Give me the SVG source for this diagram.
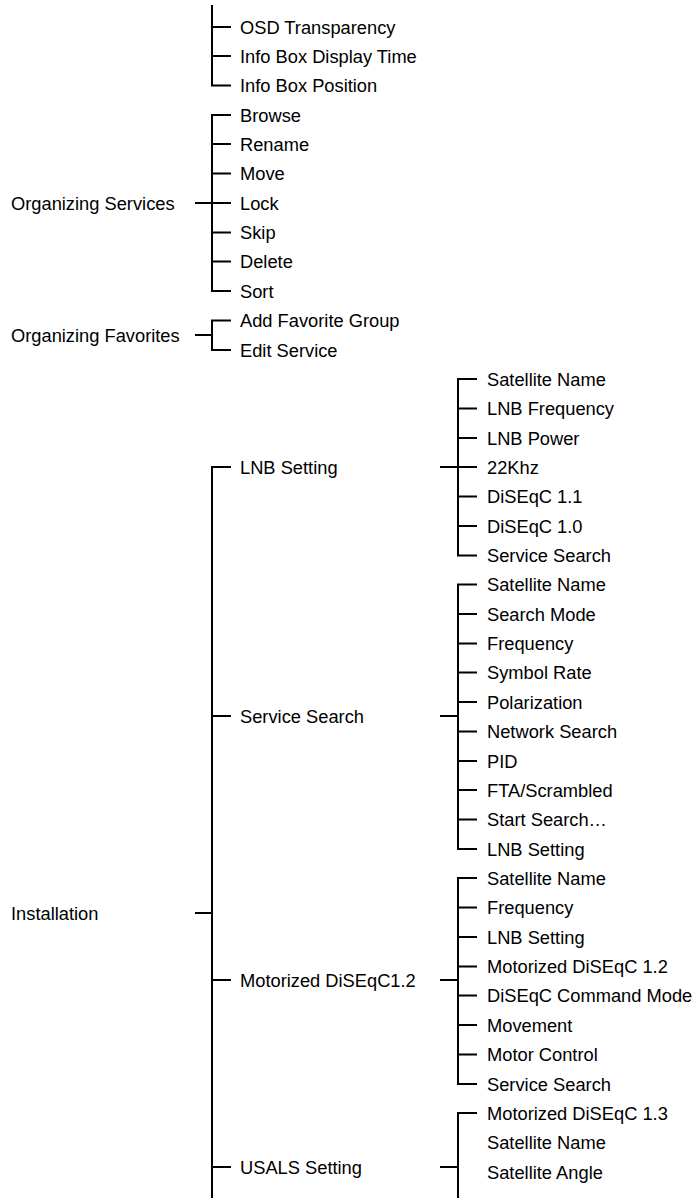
<svg xmlns="http://www.w3.org/2000/svg" width="696" height="1198" viewBox="0 0 696 1198">
<style>
.t{font-family:"Liberation Sans",Arial,sans-serif;font-size:18.3px;fill:#000}
.c{stroke:#000;stroke-width:2;fill:none;stroke-linejoin:miter}
</style>
<rect width="696" height="1198" fill="#fff"/>
<g id="connectors" class="c">
<path d="M212,5 V85.5 H231 M212,27 H231 M212,56 H231"/>
<path d="M195,203 H212 M231,115 H212 V291 H231 M212,144 H231 M212,173.5 H231 M212,203 H231 M212,232.5 H231 M212,261.5 H231"/>
<path d="M195,335 H212 M231,320.5 H212 V350 H231"/>
<path d="M195,913 H212 M231,467 H212 V1198 M212,716 H231 M212,980 H231 M212,1167 H231"/>
<path d="M440,467 H458 M477,379 H458 V555.5 H477 M458,408.5 H477 M458,438 H477 M458,467 H477 M458,496.5 H477 M458,526 H477"/>
<path d="M440,716 H458 M477,584.5 H458 V849 H477 M458,614 H477 M458,643.5 H477 M458,672.5 H477 M458,702 H477 M458,731.5 H477 M458,761 H477 M458,790 H477 M458,819.5 H477"/>
<path d="M440,980 H458 M477,878 H458 V1084 H477 M458,907.5 H477 M458,937 H477 M458,966.5 H477 M458,995.5 H477 M458,1025 H477 M458,1054.5 H477"/>
<path d="M440,1167 H458 M477,1113 H458 V1198"/>
</g>
<g id="n-osd"><text class="t" x="240" y="33.5">OSD Transparency</text></g>
<g id="n-ibdt"><text class="t" x="240" y="62.5">Info Box Display Time</text></g>
<g id="n-ibp"><text class="t" x="240" y="92">Info Box Position</text></g>
<g id="n-orgsvc"><text class="t" x="11" y="209.5">Organizing Services</text></g>
<g id="n-browse"><text class="t" x="240" y="121.5">Browse</text></g>
<g id="n-rename"><text class="t" x="240" y="150.5">Rename</text></g>
<g id="n-move"><text class="t" x="240" y="180">Move</text></g>
<g id="n-lock"><text class="t" x="240" y="209.5">Lock</text></g>
<g id="n-skip"><text class="t" x="240" y="239">Skip</text></g>
<g id="n-delete"><text class="t" x="240" y="268">Delete</text></g>
<g id="n-sort"><text class="t" x="240" y="297.5">Sort</text></g>
<g id="n-orgfav"><text class="t" x="11" y="341.5">Organizing Favorites</text></g>
<g id="n-addfav"><text class="t" x="240" y="327">Add Favorite Group</text></g>
<g id="n-editsvc"><text class="t" x="240" y="356.5">Edit Service</text></g>
<g id="n-install"><text class="t" x="11" y="919.5">Installation</text></g>
<g id="n-lnb"><text class="t" x="240" y="473.5">LNB Setting</text></g>
<g id="n-ss"><text class="t" x="240" y="722.5">Service Search</text></g>
<g id="n-motor"><text class="t" x="240" y="986.5">Motorized DiSEqC1.2</text></g>
<g id="n-usals"><text class="t" x="240" y="1173.5">USALS Setting</text></g>
<g id="n-lnb-1"><text class="t" x="487" y="385.5">Satellite Name</text></g>
<g id="n-lnb-2"><text class="t" x="487" y="415">LNB Frequency</text></g>
<g id="n-lnb-3"><text class="t" x="487" y="444.5">LNB Power</text></g>
<g id="n-lnb-4"><text class="t" x="487" y="473.5">22Khz</text></g>
<g id="n-lnb-5"><text class="t" x="487" y="503">DiSEqC 1.1</text></g>
<g id="n-lnb-6"><text class="t" x="487" y="532.5">DiSEqC 1.0</text></g>
<g id="n-lnb-7"><text class="t" x="487" y="562">Service Search</text></g>
<g id="n-ss-1"><text class="t" x="487" y="591">Satellite Name</text></g>
<g id="n-ss-2"><text class="t" x="487" y="620.5">Search Mode</text></g>
<g id="n-ss-3"><text class="t" x="487" y="650">Frequency</text></g>
<g id="n-ss-4"><text class="t" x="487" y="679">Symbol Rate</text></g>
<g id="n-ss-5"><text class="t" x="487" y="708.5">Polarization</text></g>
<g id="n-ss-6"><text class="t" x="487" y="738">Network Search</text></g>
<g id="n-ss-7"><text class="t" x="487" y="767.5">PID</text></g>
<g id="n-ss-8"><text class="t" x="487" y="796.5">FTA/Scrambled</text></g>
<g id="n-ss-9"><text class="t" x="487" y="826">Start Search…</text></g>
<g id="n-ss-10"><text class="t" x="487" y="855.5">LNB Setting</text></g>
<g id="n-mot-1"><text class="t" x="487" y="884.5">Satellite Name</text></g>
<g id="n-mot-2"><text class="t" x="487" y="914">Frequency</text></g>
<g id="n-mot-3"><text class="t" x="487" y="943.5">LNB Setting</text></g>
<g id="n-mot-4"><text class="t" x="487" y="973">Motorized DiSEqC 1.2</text></g>
<g id="n-mot-5"><text class="t" x="487" y="1002">DiSEqC Command Mode</text></g>
<g id="n-mot-6"><text class="t" x="487" y="1031.5">Movement</text></g>
<g id="n-mot-7"><text class="t" x="487" y="1061">Motor Control</text></g>
<g id="n-mot-8"><text class="t" x="487" y="1090.5">Service Search</text></g>
<g id="n-us-1"><text class="t" x="487" y="1119.5">Motorized DiSEqC 1.3</text></g>
<g id="n-us-2"><text class="t" x="487" y="1149">Satellite Name</text></g>
<g id="n-us-3"><text class="t" x="487" y="1178.5">Satellite Angle</text></g>
</svg>
